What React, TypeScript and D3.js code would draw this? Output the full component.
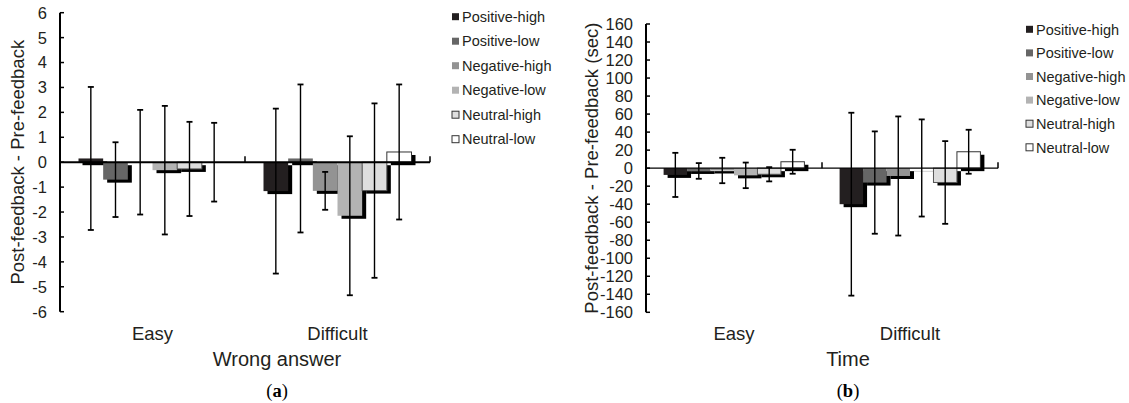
import React from "react";
import { scaleBand, scaleLinear, range } from "d3";

// categories and series
const groups = ["Easy", "Difficult"];
const series = ["Positive-high", "Positive-low", "Negative-high", "Negative-low", "Neutral-high", "Neutral-low"];
const seriesFill = ["#231f20", "#666666", "#939393", "#b3b3b3", "#dedede", "#ffffff"];
const seriesStroke = ["none", "none", "none", "none", "#555555", "#333333"];

// (a) wrong answer: means and SD, per group
const wrongEasy = [0.15, -0.7, 0, -0.32, -0.27, 0];
const wrongEasySd = [2.87, 1.5, 2.1, 2.58, 1.89, 1.58];
const wrongDifficult = [-1.16, 0.15, -1.15, -2.15, -1.14, 0.41];
const wrongDifficultSd = [3.31, 2.97, 0.76, 3.19, 3.5, 2.71];
const wrongTicks = [-6, -5, -4, -3, -2, -1, 0, 1, 2, 3, 4, 5, 6];

// (b) time
const timeEasy = [-7.5, -3.1, -2.6, -8, -6.8, 7.1];
const timeEasySd = [24.5, 8.7, 14.1, 14.2, 7.9, 13.3];
const timeDifficult = [-40, -16, -8.7, 0.2, -15.9, 18.2];
const timeDifficultSd = [101.5, 56.8, 66.1, 53.9, 45.9, 24.4];
const timeTicks = range(-160, 161, 20);

const FONT = "'Liberation Sans', Arial, sans-serif";
const INK = "#231f20";

function Panel(props) {
    const { x0, x1, yTop, yBottom, domain, ticks, means, sds, yTitle, yTitleX, xTitle, xTitleX, tag,
        legendX, legendY, legendStep, zeroWidth } = props;

    const xScale = scaleBand().domain(groups).range([x0, x1]).padding(0);
    const inner = scaleBand().domain(series).range([0, xScale.bandwidth()]).paddingInner(0).paddingOuter(0.75);
    const yScale = scaleLinear().domain(domain).range([yBottom, yTop]);
    const y0 = yScale(0);
    const bw = inner.bandwidth();

    const bars = [];
    groups.forEach((g, gi) => {
        series.forEach((s, si) => {
            const v = means[gi][si];
            bars.push({ g, s, si, v, sd: sds[gi][si], x: xScale(g) + inner(s) });
        });
    });

    return (
        <g>
            {/* shadows */}
            {bars.map((d, i) => (
                <rect key={"sh" + i} x={d.x + 4} y={Math.min(yScale(d.v), y0) + 3}
                      width={bw} height={Math.abs(yScale(d.v) - y0)} fill="#000" />
            ))}
            {bars.map((d, i) => (
                <rect key={"b" + i} x={d.x} y={Math.min(yScale(d.v), y0)}
                      width={bw} height={Math.abs(yScale(d.v) - y0)}
                      fill={seriesFill[d.si]} stroke={seriesStroke[d.si]} strokeWidth={1} />
            ))}

            {/* y axis */}
            <line x1={x0} x2={x0} y1={yTop} y2={yBottom} stroke="#000" strokeWidth={2} />
            {ticks.map(t => (
                <g key={t}>
                    <line x1={x0} x2={x0 + 4} y1={yScale(t)} y2={yScale(t)} stroke="#000" strokeWidth={1.5} />
                    <text x={x0 - 13} y={yScale(t)} dy="0.36em" textAnchor="end" fontSize={16.5}
                          fontFamily={FONT} fill={INK}>{t}</text>
                </g>
            ))}

            {/* category axis at zero */}
            <line x1={x0} x2={x1} y1={y0} y2={y0} stroke="#000" strokeWidth={zeroWidth} />
            {groups.map(g => (
                <line key={g} x1={xScale(g) + xScale.bandwidth()} x2={xScale(g) + xScale.bandwidth()}
                      y1={y0} y2={y0 - 6} stroke="#000" strokeWidth={1.5} />
            ))}

            {/* error bars */}
            {bars.map((d, i) => {
                const cx = d.x + bw / 2;
                const hi = yScale(d.v + d.sd);
                const lo = yScale(d.v - d.sd);
                return (
                    <g key={"e" + i} stroke="#000">
                        <line x1={cx} x2={cx} y1={hi} y2={lo} strokeWidth={1.4} />
                        <line x1={cx - 3} x2={cx + 3} y1={hi} y2={hi} strokeWidth={1.8} />
                        <line x1={cx - 3} x2={cx + 3} y1={lo} y2={lo} strokeWidth={1.8} />
                    </g>
                );
            })}

            {/* category labels */}
            {groups.map(g => (
                <text key={g} x={xScale(g) + xScale.bandwidth() / 2} y={340} textAnchor="middle"
                      fontSize={18.5} fontFamily={FONT} fill={INK}>{g}</text>
            ))}

            <text transform={`translate(${yTitleX}, ${(yTop + yBottom) / 2}) rotate(-90)`} textAnchor="middle"
                  fontSize={18.5} fontFamily={FONT} fill={INK}>{yTitle}</text>
            <text x={xTitleX} y={366} textAnchor="middle" fontSize={20} fontFamily={FONT} fill={INK}>{xTitle}</text>
            <text x={xTitleX} y={397} textAnchor="middle" fontSize={18.5} fontFamily="'Liberation Serif', 'Times New Roman', serif"
                  fill="#000">(<tspan fontWeight="bold">{tag}</tspan>)</text>

            {/* legend */}
            {series.map((s, i) => (
                <g key={s} transform={`translate(${legendX}, ${legendY + i * legendStep})`}>
                    <rect x={0.5} y={-3.5} width={7} height={7} fill={seriesFill[i]}
                          stroke={i >= 4 ? "#333" : "none"} strokeWidth={1} />
                    <text x={10.5} y={0} dy="0.36em" fontSize={14.5} fontFamily={FONT} fill={INK}>{s}</text>
                </g>
            ))}
        </g>
    );
}

export default function App() {
    return (
        <svg width={1129} height={403} style={{ position: "absolute", left: 0, top: 0, background: "#fff" }}>
            <Panel x0={60} x1={430} yTop={12.7} yBottom={311.7} domain={[-6, 6]} ticks={wrongTicks}
                   means={[wrongEasy, wrongDifficult]} sds={[wrongEasySd, wrongDifficultSd]}
                   yTitle="Post-feedback - Pre-feedback" yTitleX={24} xTitle="Wrong answer" xTitleX={277}
                   tag="a" legendX={451.5} legendY={16.7} legendStep={24.5} zeroWidth={2} />
            <Panel x0={646} x1={998} yTop={24} yBottom={312.3} domain={[-160, 160]} ticks={timeTicks}
                   means={[timeEasy, timeDifficult]} sds={[timeEasySd, timeDifficultSd]}
                   yTitle="Post-feedback - Pre-feedback (sec)" yTitleX={598} xTitle="Time" xTitleX={848}
                   tag="b" legendX={1025.5} legendY={29.3} legendStep={23.6} zeroWidth={1.3} />
        </svg>
    );
}
